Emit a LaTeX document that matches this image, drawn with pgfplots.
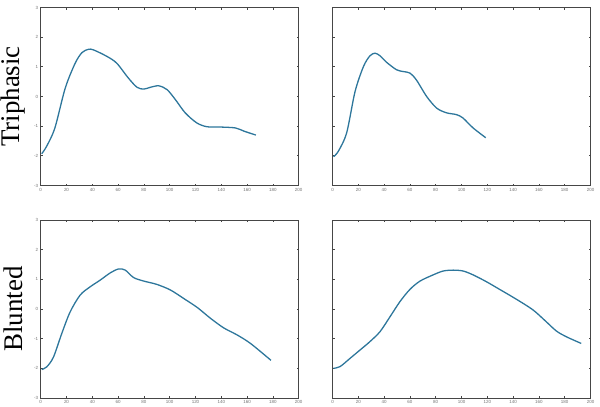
\documentclass[border=0pt]{standalone}
\usepackage{fontspec}
\setmainfont{Liberation Serif}
\newfontfamily\tickfont{Liberation Sans}
\usepackage{pgfplots}
\pgfplotsset{compat=1.18}
\definecolor{curve}{RGB}{45,118,155}
\definecolor{frame}{RGB}{70,70,70}
\pgfplotsset{
  panel/.style={
    scale only axis, width=258bp, height=178bp,
    anchor=north west,
    xmin=0, xmax=200, ymin=-3, ymax=3,
    xtick={0,20,...,200}, ytick={-3,-2,...,3},
    tick align=inside, tick pos=both,
    major tick length=2bp,
    axis line style={frame, line width=0.8pt},
    tick style={frame, line width=0.8pt},
    tick label style={font=\tickfont\fontsize{4.5}{5}\selectfont, text=black!55},
    xticklabel style={yshift=1bp},
    yticklabel style={xshift=1bp},
    /pgf/number format/assume math mode=true,
    ylabel style={font=\fontsize{27}{30}\selectfont, at={(axis description cs:-0.107,0.5)}, anchor=center},
  },
  crv/.style={curve, line width=1.3pt, smooth, tension=0.5, no markers},
}
\begin{document}
\begin{tikzpicture}
\useasboundingbox (0,0) rectangle (600bp,-407bp);
% top left
\begin{axis}[panel, at={(40.7bp,-7.5bp)}, ylabel={Triphasic}]
\addplot[crv] coordinates {
(0.8,-1.93) (4.7,-1.67) (11,-1.06) (19,0.28) (26.7,1.12) (32,1.48) (37,1.59)
(41,1.57) (51.4,1.35) (59,1.12) (68,0.62) (74.7,0.31) (80,0.25) (85,0.31)
(91.5,0.36) (98,0.23) (104.5,-0.11) (112,-0.55) (121,-0.89) (129,-1.02)
(139.6,-1.03) (151,-1.06) (157.7,-1.17) (166.8,-1.30)};
\end{axis}
% top right
\begin{axis}[panel, at={(332.5bp,-7.5bp)}, yticklabels={}]
\addplot[crv] coordinates {
(0.8,-2.03) (4.6,-1.84) (11,-1.22) (17.5,0.17) (24,1.01) (29,1.37) (33,1.46)
(36.9,1.37) (42,1.15) (49.7,0.9) (55,0.84) (60,0.79) (65,0.56) (73,0.0)
(80.7,-0.39) (88.4,-0.55) (96,-0.61) (101,-0.72) (109,-1.06) (118.8,-1.39)};
\end{axis}
% bottom left
\begin{axis}[panel, at={(40.7bp,-220bp)}, ylabel={Blunted}]
\addplot[crv] coordinates {
(0.8,-2.04) (4.7,-1.95) (9.9,-1.62) (16.3,-0.83) (22.8,-0.1) (30.6,0.47)
(38.4,0.75) (46,0.97) (54,1.22) (60.4,1.35) (65.6,1.31) (72,1.06) (80,0.94)
(90,0.83) (100.6,0.64) (111,0.35) (121.4,0.05) (131.8,-0.32) (142,-0.64)
(152.5,-0.88) (162.9,-1.17) (178.5,-1.73)};
\end{axis}
% bottom right
\begin{axis}[panel, at={(332.5bp,-220bp)}, yticklabels={}]
\addplot[crv] coordinates {
(0.8,-2.0) (5.9,-1.94) (13.7,-1.66) (21.4,-1.38) (29,-1.1) (36.9,-0.76)
(44.6,-0.26) (52.3,0.25) (60,0.66) (67.8,0.94) (78,1.15) (85.8,1.28)
(93.6,1.31) (101.3,1.28) (109,1.15) (119.3,0.92) (129.6,0.66) (142.5,0.33)
(155.4,-0.03) (165.7,-0.43) (173.5,-0.74) (181,-0.93) (192.8,-1.16)};
\end{axis}
\end{tikzpicture}
\end{document}
